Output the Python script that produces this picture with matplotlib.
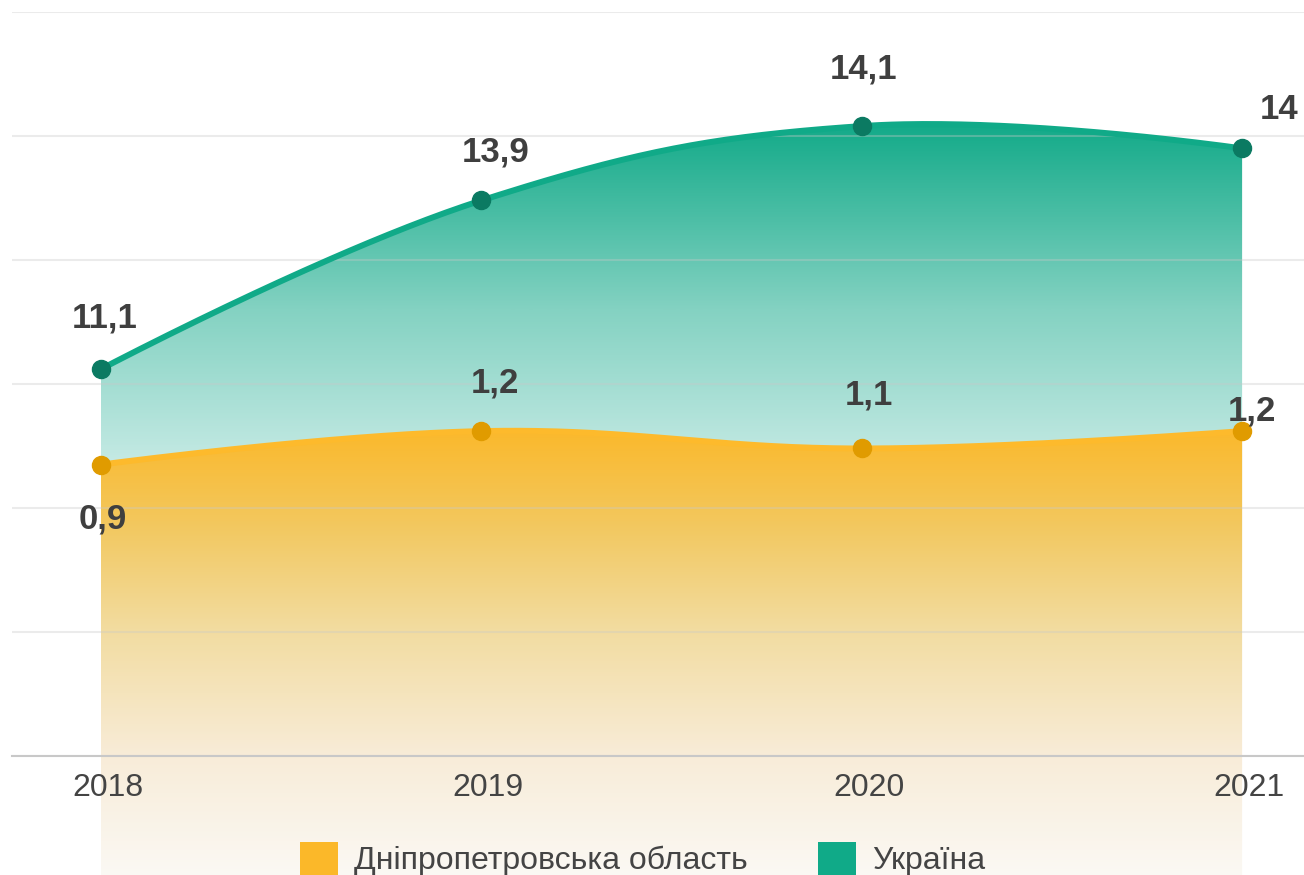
import numpy as np
import matplotlib
matplotlib.use("Agg")
import matplotlib.pyplot as plt
from matplotlib.colors import LinearSegmentedColormap
from matplotlib.patches import Polygon, Patch
from matplotlib.transforms import ScaledTranslation

plt.rcParams['font.family'] = ['Liberation Sans', 'DejaVu Sans']

# data
years = ['2018', '2019', '2020', '2021']
series_names = ['Дніпропетровська область', 'Україна']

# values printed on the chart
dnipro_values = [0.9, 1.2, 1.1, 1.2]
ukraine_values = [11.1, 13.9, 14.1, 14.0]

# heights as drawn in the picture (chart is not to scale), in gridline units
dnipro_heights = [2.35, 2.62, 2.48, 2.62]
ukraine_heights = [3.12, 4.48, 5.08, 4.90]

# styles
ORANGE = '#fbb829'
ORANGE_DOT = '#e09b00'
GREEN = '#10aa88'
GREEN_DOT = '#0b7a62'
TEXT = '#3f3f3f'

# gradient stops: (height, colour)
orange_stops = [(-1.0, '#fbf9f5'), (0.0, '#f8ecd8'), (1.02, '#f2dca0'),
                (1.90, '#f3c75c'), (2.67, '#fbb829'), (2.9, '#fdb827')]
green_stops = [(0.0, '#ffffff'), (1.55, '#ffffff'), (2.5, '#bde7e0'),
               (3.6, '#84d2c2'), (5.15, '#0fa987'), (5.4, '#0fa987')]

# label offsets in pixels (dx, dy) from each dot
ukraine_off = [(4, 51), (14, 48), (2, 57), (37, 39)]
dnipro_off = [(2, -54), (14, 48), (7, 53), (10, 20)]


def spline(xs, ys, smooth=1.5, n=80):
    """Highcharts-style bezier spline through the points."""
    xs = np.asarray(xs, float)
    ys = np.asarray(ys, float)
    m = len(xs)
    left = [None] * m
    right = [None] * m
    for i in range(1, m - 1):
        lx = (smooth * xs[i] + xs[i - 1]) / (smooth + 1)
        ly = (smooth * ys[i] + ys[i - 1]) / (smooth + 1)
        rx = (smooth * xs[i] + xs[i + 1]) / (smooth + 1)
        ry = (smooth * ys[i] + ys[i + 1]) / (smooth + 1)
        corr = (ry - ly) * (rx - xs[i]) / (rx - lx) + ys[i] - ry
        left[i] = (lx, ly + corr)
        right[i] = (rx, ry + corr)
    t = np.linspace(0, 1, n)
    out_x, out_y = [], []
    for i in range(m - 1):
        p0 = (xs[i], ys[i])
        p3 = (xs[i + 1], ys[i + 1])
        p1 = right[i] or p0
        p2 = left[i + 1] or p3
        bx = (1-t)**3*p0[0] + 3*(1-t)**2*t*p1[0] + 3*(1-t)*t**2*p2[0] + t**3*p3[0]
        by = (1-t)**3*p0[1] + 3*(1-t)**2*t*p1[1] + 3*(1-t)*t**2*p2[1] + t**3*p3[1]
        if i > 0:
            bx, by = bx[1:], by[1:]
        out_x.append(bx)
        out_y.append(by)
    return np.concatenate(out_x), np.concatenate(out_y)


def gradient_fill(ax, cx, cy, bottom, stops, z):
    verts = np.column_stack([np.r_[cx, cx[-1], cx[0]], np.r_[cy, bottom, bottom]])
    poly = Polygon(verts, closed=True, transform=ax.transData)
    lo, hi = stops[0][0], stops[-1][0]
    cmap = LinearSegmentedColormap.from_list(
        'grad', [((h - lo) / (hi - lo), c) for h, c in stops])
    grad = np.linspace(0, 1, 512).reshape(-1, 1)
    im = ax.imshow(grad, extent=(cx[0], cx[-1], lo, hi), origin='lower',
                   cmap=cmap, aspect='auto', vmin=0, vmax=1, zorder=z,
                   interpolation='bilinear')
    im.set_clip_path(poly)
    im.set_clip_box(ax.figure.bbox)
    return im


fig = plt.figure(figsize=(13.04, 8.75), dpi=100)
ax = fig.add_axes([12 / 1304, 119 / 875, 1292 / 1304, 744 / 875])

x = np.arange(len(years))

gx, gy = spline(x, ukraine_heights)
ox, oy = spline(x, dnipro_heights)

gradient_fill(ax, gx, gy, 0, green_stops, 0.5)
gradient_fill(ax, ox, oy, -1.0, orange_stops, 0.6)

ax.plot(gx, gy, color=GREEN, lw=4.3, zorder=3, solid_capstyle='round')
ax.plot(ox, oy, color='#fdba2c', lw=4.3, zorder=3, solid_capstyle='round')
ax.plot(x, ukraine_heights, 'o', ms=13, color=GREEN_DOT, zorder=4, clip_on=False)
ax.plot(x, dnipro_heights, 'o', ms=13, color=ORANGE_DOT, zorder=4, clip_on=False)

for xi, h, v, off in zip(x, ukraine_heights, ukraine_values, ukraine_off):
    ax.annotate(f'{v:g}'.replace('.', ','), (xi, h), xytext=off,
                textcoords='offset pixels', ha='center', va='center',
                fontsize=25, fontweight='bold', color=TEXT,
                annotation_clip=False, zorder=5)
for xi, h, v, off in zip(x, dnipro_heights, dnipro_values, dnipro_off):
    ax.annotate(f'{v:g}'.replace('.', ','), (xi, h), xytext=off,
                textcoords='offset pixels', ha='center', va='center',
                fontsize=25, fontweight='bold', color=TEXT,
                annotation_clip=False, zorder=5)

ax.set_xlim(-0.2337, 3.1627)
ax.set_ylim(0, 6)
ax.set_yticks(range(7))
ax.yaxis.grid(True, color='#c8c8c8', alpha=0.35, lw=1.5)
ax.tick_params(axis='y', left=False, labelleft=False)
ax.set_xticks(x, years)
ax.tick_params(axis='x', length=0, pad=12, labelsize=23, labelcolor='#444444')
shift = ScaledTranslation(0.07, 0, fig.dpi_scale_trans)
for lbl in ax.get_xticklabels():
    lbl.set_transform(lbl.get_transform() + shift)
for s in ['left', 'right', 'top']:
    ax.spines[s].set_visible(False)
ax.spines['bottom'].set_color('#c8c8c8')
ax.spines['bottom'].set_linewidth(1.5)
ax.patch.set_alpha(0)

handles = [Patch(facecolor=ORANGE), Patch(facecolor=GREEN)]
fig.legend(handles, series_names, loc='center', bbox_to_anchor=(643 / 1304, 1 - 859 / 875),
           ncol=2, frameon=False, fontsize=23, handlelength=1.19, handleheight=1.19,
           handletextpad=0.5, columnspacing=2.2, labelcolor='#444444')

fig.savefig('out.png', dpi=100)
